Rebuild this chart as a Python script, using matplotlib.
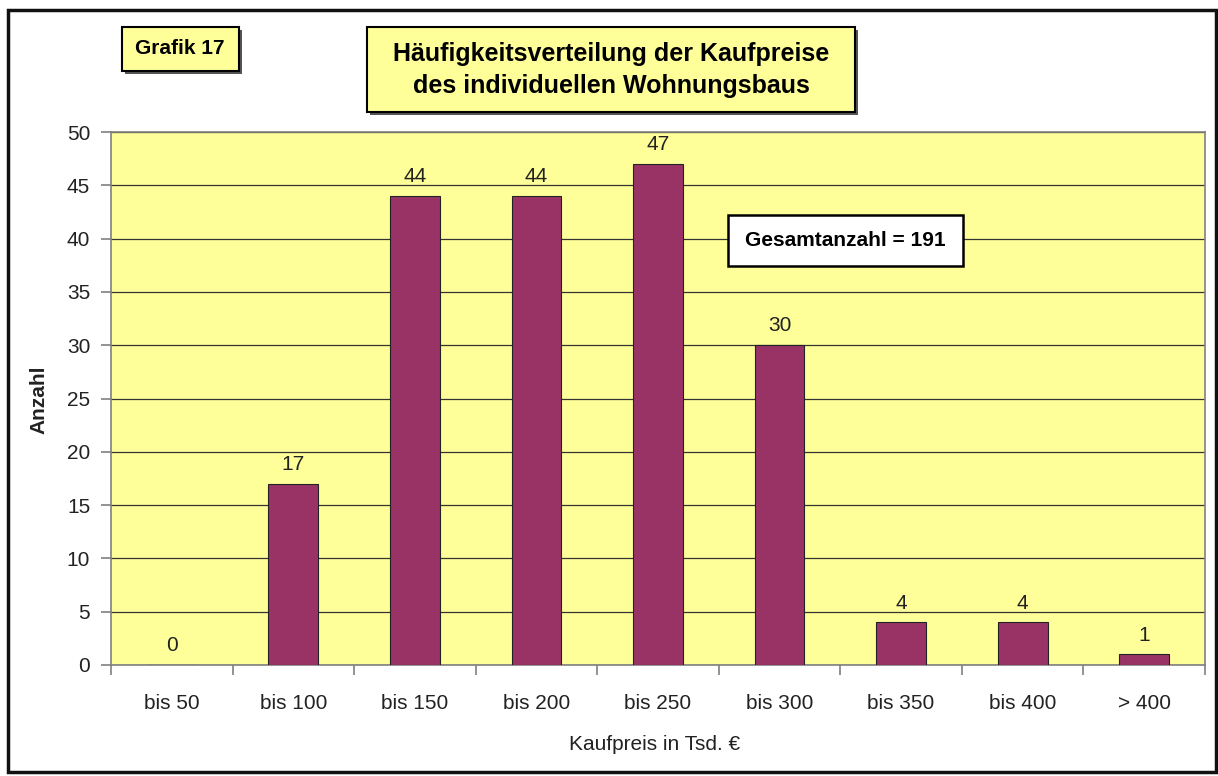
import matplotlib
matplotlib.use("Agg")
import matplotlib.pyplot as plt
from matplotlib.patches import Rectangle
from matplotlib.ticker import FixedLocator

kategorien = ["bis 50", "bis 100", "bis 150", "bis 200", "bis 250",
              "bis 300", "bis 350", "bis 400", "> 400"]
anzahl = [0, 17, 44, 44, 47, 30, 4, 4, 1]
y_ticks = list(range(0, 51, 5))

plt.rcParams['font.family'] = ['Liberation Sans', 'DejaVu Sans']

W, H = 1218, 776
fig = plt.figure(figsize=(W / 100, H / 100), dpi=100)
fig.patch.set_facecolor('white')


def fx(px):
    return px / W


def fy(py):
    return 1 - py / H


def kasten(x0, y0, x1, y1, farbe, schatten=True, lw=1.5):
    # Rechteck in Pixelkoordinaten (von oben gemessen)
    if schatten:
        fig.add_artist(Rectangle((fx(x0 + 3), fy(y1 + 3)), fx(x1 - x0), (y1 - y0) / H,
                                 transform=fig.transFigure, facecolor='#555555',
                                 edgecolor='none', zorder=4))
    fig.add_artist(Rectangle((fx(x0), fy(y1)), fx(x1 - x0), (y1 - y0) / H,
                             transform=fig.transFigure, facecolor=farbe,
                             edgecolor='black', linewidth=lw, zorder=5))


# Diagrammfläche
ax = fig.add_axes([fx(111), fy(665), fx(1205 - 111), (665 - 132) / H])
ax.set_facecolor('#FFFF99')
ax.set_axisbelow(True)

x = list(range(len(kategorien)))
balken = ax.bar(x, anzahl, width=0.41, color='#993366', edgecolor='#222222',
                linewidth=0.8, zorder=3)
for xi, wert in zip(x, anzahl):
    ax.annotate(str(wert), (xi, wert), xytext=(0, 7), textcoords='offset points',
                ha='center', va='bottom', fontsize=15, color='#222222')

ax.set_xlim(-0.5, len(kategorien) - 0.5)
ax.set_ylim(0, 50)
ax.set_yticks(y_ticks)
ax.yaxis.grid(True, color='#333333', linewidth=0.9)
ax.set_xticks(x)
ax.set_xticklabels(kategorien, fontsize=15, color='#222222')
ax.xaxis.set_minor_locator(FixedLocator([i - 0.5 for i in range(len(kategorien) + 1)]))
ax.tick_params(axis='x', which='major', length=0, pad=21)
ax.tick_params(axis='x', which='minor', length=7, color='#808080', width=1.2)
ax.tick_params(axis='y', length=7, color='#808080', width=1.2, pad=8,
               labelsize=15, labelcolor='#222222')
for s in ax.spines.values():
    s.set_color('#808080')
    s.set_linewidth(1.2)

fig.text(fx(655), fy(745), "Kaufpreis in Tsd. €", ha='center', va='center',
         fontsize=15, color='#222222')
fig.text(fx(39), fy(400), "Anzahl", ha='center', va='center', rotation=90,
         fontsize=15, fontweight='bold', color='#222222')

# Textkästen
kasten(122, 27, 239, 71, '#FFFF99')
fig.text(fx(180), fy(49), "Grafik 17", ha='center', va='center', fontsize=15,
         fontweight='bold', zorder=6)

kasten(367, 27, 855, 112, '#FFFF99')
fig.text(fx(611), fy(70), "Häufigkeitsverteilung der Kaufpreise\ndes individuellen Wohnungsbaus",
         ha='center', va='center', fontsize=18, fontweight='bold', linespacing=1.4,
         zorder=6)

kasten(728, 215, 963, 266, 'white', schatten=False, lw=1.8)
fig.text(fx(845), fy(241), "Gesamtanzahl = 191", ha='center', va='center',
         fontsize=15, fontweight='bold', zorder=6)

# Rahmen
fig.add_artist(Rectangle((fx(8), fy(772)), fx(1216 - 8), (772 - 10) / H,
                         transform=fig.transFigure, facecolor='none',
                         edgecolor='#111111', linewidth=2.5, zorder=10))

fig.savefig('out.png', dpi=100)
